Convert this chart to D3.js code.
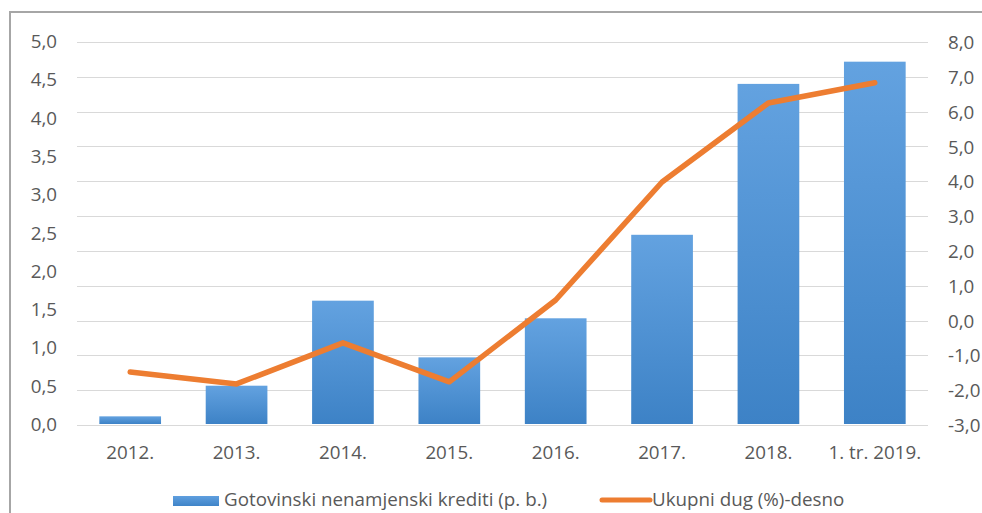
<!DOCTYPE html>
<html>
<head>
<meta charset="utf-8">
<script src="https://cdn.jsdelivr.net/npm/d3@7"></script>
<style>
  body { margin: 0; background: #fff; overflow: hidden; }
  svg { display: block; }
  text { font-family: "Open Sans", "Noto Sans", sans-serif; fill: #595959; }
</style>
</head>
<body>
<svg id="svg"></svg>
<script>
// data
var categories = ["2012.", "2013.", "2014.", "2015.", "2016.", "2017.", "2018.", "1. tr. 2019."];
var krediti    = [0.10, 0.50, 1.61, 0.87, 1.38, 2.47, 4.44, 4.73];    // bars, left axis
var dug        = [-1.48, -1.82, -0.64, -1.76, 0.59, 3.98, 6.25, 6.83]; // line, right axis
var leftTicks  = [0, 0.5, 1, 1.5, 2, 2.5, 3, 3.5, 4, 4.5, 5];
var rightTicks = [-3, -2, -1, 0, 1, 2, 3, 4, 5, 6, 7, 8];
var legendNames = ["Gotovinski nenamjenski krediti (p. b.)", "Ukupni dug (%)-desno"];

var W = 982, H = 513;
var plot = {left: 77, right: 928, top: 41, bottom: 424};
var fs = "18.8px";

var svg = d3.select("#svg").attr("width", W).attr("height", H);

var fmt = function(v) { return d3.format(".1f")(v).replace(".", ",").replace("−", "-"); };

var x = d3.scaleBand()
    .domain(categories)
    .range([plot.left, plot.right])
    .paddingInner(0.42)
    .paddingOuter(0.21);

var yL = d3.scaleLinear().domain([0, 5]).range([plot.bottom, plot.top]);
var yR = d3.scaleLinear().domain([-3, 8]).range([plot.bottom + 1, plot.top + 1]);

// gradient for the bars (Excel style)
var defs = svg.append("defs");
var grad = defs.append("linearGradient")
    .attr("id", "barGrad").attr("x1", 0).attr("y1", 0).attr("x2", 0).attr("y2", 1);
grad.append("stop").attr("offset", "0%").attr("stop-color", "#63a2e0");
grad.append("stop").attr("offset", "100%").attr("stop-color", "#3d82c6");

var lgrad = defs.append("linearGradient")
    .attr("id", "legGrad").attr("x1", 0).attr("y1", 0).attr("x2", 0).attr("y2", 1);
lgrad.append("stop").attr("offset", "0%").attr("stop-color", "#5f9fdf");
lgrad.append("stop").attr("offset", "100%").attr("stop-color", "#3f84c8");

// chart frame (only top and left edges visible in the crop)
svg.append("path")
    .attr("d", "M10," + H + "V12H" + W)
    .attr("fill", "none")
    .attr("stroke", "#a6a6a6")
    .attr("stroke-width", 2);

// gridlines follow the right-axis ticks
svg.append("g")
    .selectAll("line")
    .data(rightTicks)
    .enter()
    .append("line")
    .attr("x1", plot.left).attr("x2", plot.right)
    .attr("y1", function(d) { return Math.round(yR(d)) + 0.5; })
    .attr("y2", function(d) { return Math.round(yR(d)) + 0.5; })
    .attr("stroke", "#d9d9d9")
    .attr("stroke-width", 1);

// bars
svg.append("g")
    .selectAll("rect")
    .data(krediti)
    .enter()
    .append("rect")
    .attr("x", function(d, i) { return x(categories[i]); })
    .attr("width", x.bandwidth())
    .attr("y", function(d) { return yL(d); })
    .attr("height", function(d) { return yL(0) - yL(d); })
    .attr("fill", "url(#barGrad)");

// line
var line = d3.line()
    .x(function(d, i) { return x(categories[i]) + x.bandwidth() / 2; })
    .y(function(d) { return yR(d); });

svg.append("path")
    .datum(dug)
    .attr("d", line)
    .attr("fill", "none")
    .attr("stroke", "#ed7d31")
    .attr("stroke-width", 5.5)
    .attr("stroke-linejoin", "round")
    .attr("stroke-linecap", "round");

// left axis
var leftAxis = d3.axisLeft(yL).tickValues(leftTicks).tickFormat(fmt).tickSize(0).tickPadding(0);
var gL = svg.append("g").attr("transform", "translate(57,0)").call(leftAxis);
gL.select(".domain").remove();
gL.selectAll("text").style("font-size", fs).attr("fill", "#595959").attr("dy", "0.35em");

// right axis
var rightAxis = d3.axisRight(yR).tickValues(rightTicks).tickFormat(fmt).tickSize(0).tickPadding(0);
var gR = svg.append("g").attr("transform", "translate(948,0)").call(rightAxis);
gR.select(".domain").remove();
gR.selectAll("text").style("font-size", fs).attr("fill", "#595959").attr("dy", "0.35em");

// category axis
var bottomAxis = d3.axisBottom(x).tickSize(0).tickPadding(0);
var gB = svg.append("g").attr("transform", "translate(0,452)").call(bottomAxis);
gB.select(".domain").remove();
gB.selectAll("text").style("font-size", fs).attr("fill", "#595959").attr("dy", "0.35em");

// legend
var Legend = svg.append("g");
Legend.append("rect")
    .attr("x", 173).attr("y", 496).attr("width", 46).attr("height", 10)
    .attr("fill", "url(#legGrad)");
Legend.append("text")
    .attr("x", 224).attr("y", 506)
    .style("font-size", fs)
    .text(legendNames[0]);
Legend.append("line")
    .attr("x1", 602).attr("x2", 650).attr("y1", 500).attr("y2", 500)
    .attr("stroke", "#ed7d31").attr("stroke-width", 5).attr("stroke-linecap", "round");
Legend.append("text")
    .attr("x", 652).attr("y", 506)
    .style("font-size", fs)
    .text(legendNames[1]);
</script>
</body>
</html>
